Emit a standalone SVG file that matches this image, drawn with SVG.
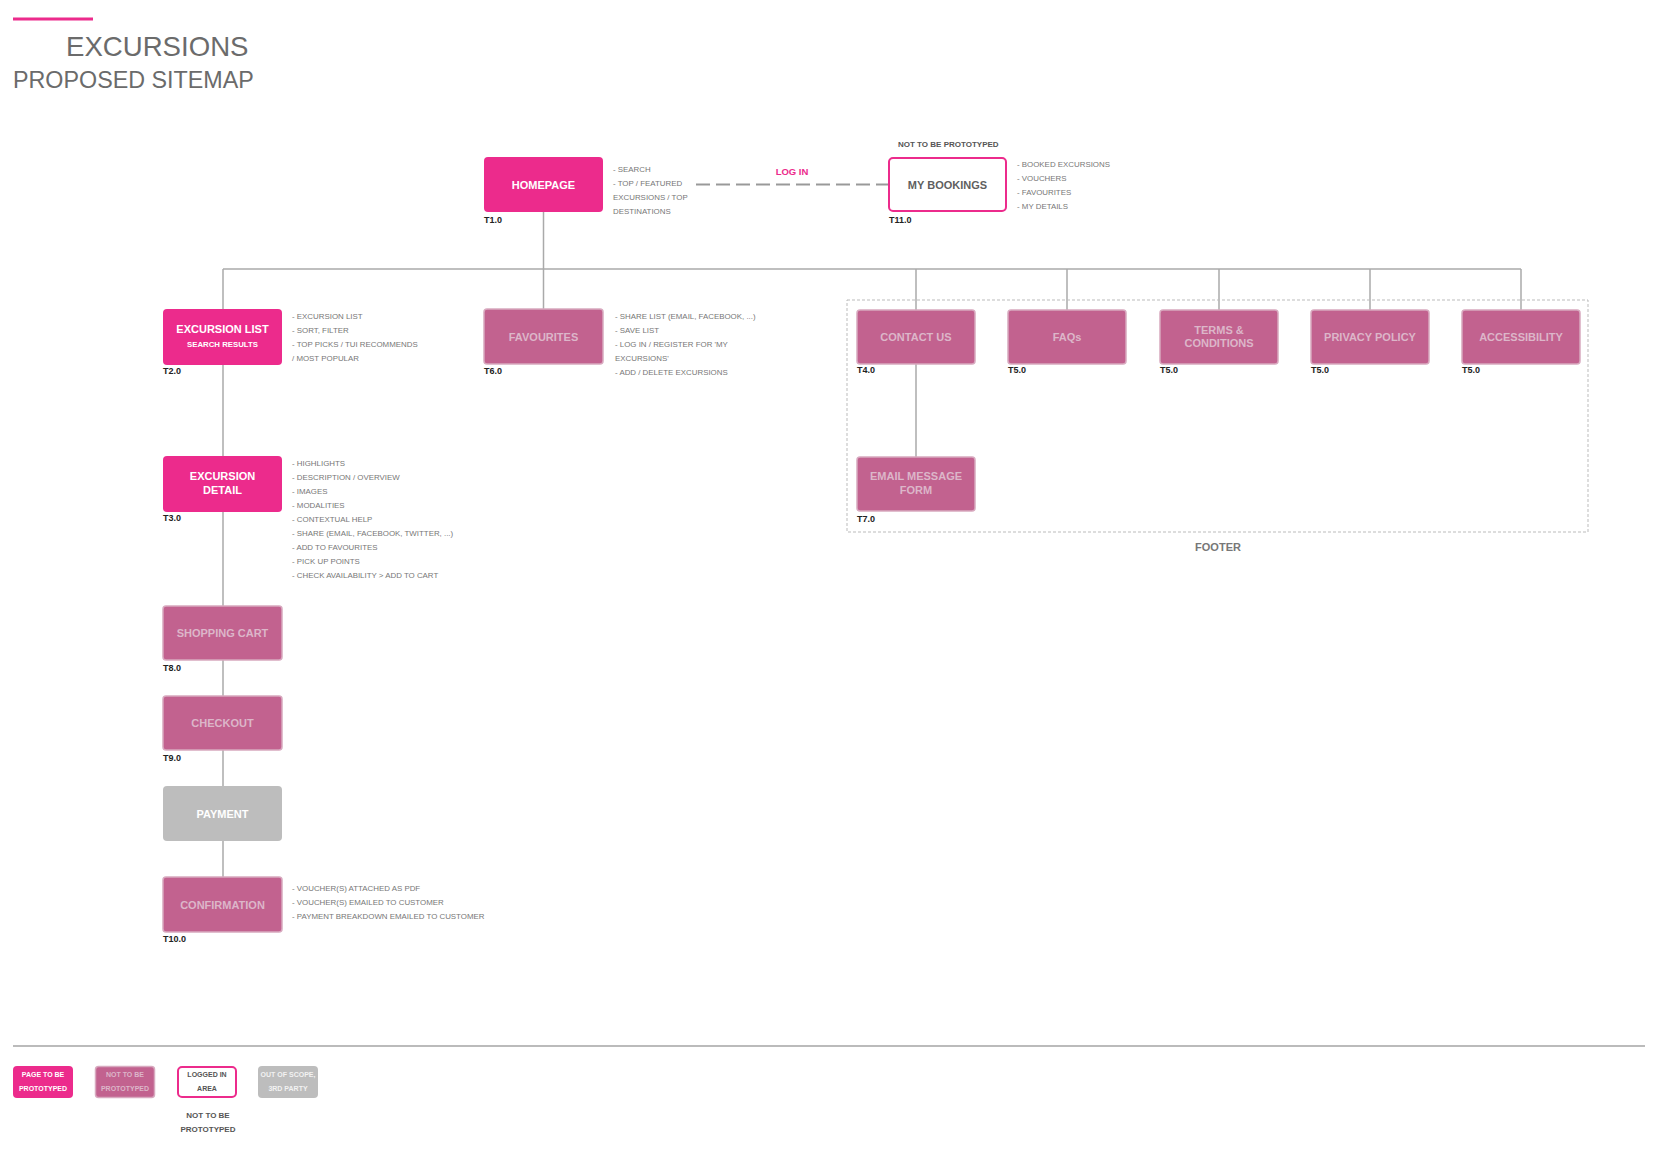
<svg xmlns="http://www.w3.org/2000/svg" width="1659" height="1152" viewBox="0 0 1659 1152">
<style>
text{font-family:"Liberation Sans",Arial,Helvetica,sans-serif}
.hot{fill:#ec2b8c}
.mut{fill:#c2628f;stroke:#d8a9bf;stroke-width:1.5}
.gry{fill:#bdbdbd}
.lg{fill:#fff;stroke:#ec2b8c;stroke-width:2}
.lw{font-size:11px;font-weight:bold;fill:#fff;text-anchor:middle}
.lm{font-size:11px;font-weight:bold;fill:#dcb6c9;text-anchor:middle}
.lb{font-size:11px;font-weight:bold;fill:#5f5f5f;text-anchor:middle}
.sub{font-size:7.8px;font-weight:bold;fill:#fff;text-anchor:middle}
.tl{font-size:9px;font-weight:bold;fill:#222}
.nt{font-size:7.9px;fill:#777}
.cap{font-size:8px;font-weight:bold;fill:#555}
.con{stroke:#aaa;stroke-width:1.5;fill:none}
.lgt{font-size:7px;font-weight:bold;text-anchor:middle}
</style>
<line x1="13" y1="19" x2="93" y2="19" stroke="#ec2b8c" stroke-width="3"/>
<text x="66" y="56" font-size="27.6" fill="#6b6b6b">EXCURSIONS</text>
<text x="13" y="88" font-size="23.3" fill="#6b6b6b">PROPOSED SITEMAP</text>

<g id="connectors">
<line class="con" x1="223" y1="269" x2="1521" y2="269"/>
<line class="con" x1="543.5" y1="212" x2="543.5" y2="309"/>
<line class="con" x1="223" y1="269" x2="223" y2="877"/>
<line class="con" x1="916" y1="269" x2="916" y2="457"/>
<line class="con" x1="1067" y1="269" x2="1067" y2="310"/>
<line class="con" x1="1219" y1="269" x2="1219" y2="310"/>
<line class="con" x1="1370" y1="269" x2="1370" y2="310"/>
<line class="con" x1="1521" y1="269" x2="1521" y2="310"/>
<line x1="696" y1="184.5" x2="888" y2="184.5" stroke="#999" stroke-width="2" stroke-dasharray="14 6"/>
<text x="792" y="175" font-size="9.5" font-weight="bold" fill="#ec2b8c" text-anchor="middle">LOG IN</text>
</g>

<g id="footer-group">
<rect x="847" y="300" width="741" height="232" fill="none" stroke="#bbb" stroke-width="1" stroke-dasharray="3 2"/>
<text x="1218" y="551" font-size="11" font-weight="bold" fill="#777" text-anchor="middle">FOOTER</text>
</g>

<g id="homepage">
<rect class="hot" x="484" y="157" width="119" height="55" rx="4"/>
<text class="lw" x="543.5" y="188.5">HOMEPAGE</text>
<text class="tl" x="484" y="223">T1.0</text>
<text class="nt" x="613" y="172">- SEARCH</text>
<text class="nt" x="613" y="186">- TOP / FEATURED</text>
<text class="nt" x="613" y="200">EXCURSIONS / TOP</text>
<text class="nt" x="613" y="214">DESTINATIONS</text>
</g>

<g id="my-bookings">
<text class="cap" x="898" y="147">NOT TO BE PROTOTYPED</text>
<rect class="lg" x="889" y="158" width="117" height="53" rx="4"/>
<text class="lb" x="947.5" y="188.5">MY BOOKINGS</text>
<text class="tl" x="889" y="223">T11.0</text>
<text class="nt" x="1017" y="167">- BOOKED EXCURSIONS</text>
<text class="nt" x="1017" y="181">- VOUCHERS</text>
<text class="nt" x="1017" y="195">- FAVOURITES</text>
<text class="nt" x="1017" y="209">- MY DETAILS</text>
</g>

<g id="excursion-list">
<rect class="hot" x="163" y="309" width="119" height="56" rx="4"/>
<text class="lw" x="222.5" y="332.5">EXCURSION LIST</text>
<text class="sub" x="222.5" y="346.5">SEARCH RESULTS</text>
<text class="tl" x="163" y="374">T2.0</text>
<text class="nt" x="292" y="319">- EXCURSION LIST</text>
<text class="nt" x="292" y="333">- SORT, FILTER</text>
<text class="nt" x="292" y="347">- TOP PICKS / TUI RECOMMENDS</text>
<text class="nt" x="292" y="361">/ MOST POPULAR</text>
</g>

<g id="favourites">
<rect class="mut" x="484" y="309" width="119" height="55" rx="3"/>
<text class="lm" x="543.5" y="340.5">FAVOURITES</text>
<text class="tl" x="484" y="374">T6.0</text>
<text class="nt" x="615" y="319">- SHARE LIST (EMAIL, FACEBOOK, ...)</text>
<text class="nt" x="615" y="333">- SAVE LIST</text>
<text class="nt" x="615" y="347">- LOG IN / REGISTER FOR 'MY</text>
<text class="nt" x="615" y="361">EXCURSIONS'</text>
<text class="nt" x="615" y="374.5">- ADD / DELETE EXCURSIONS</text>
</g>

<g id="contact-us">
<rect class="mut" x="857" y="310" width="118" height="54" rx="3"/>
<text class="lm" x="916" y="341">CONTACT US</text>
<text class="tl" x="857" y="373">T4.0</text>
</g>
<g id="faqs">
<rect class="mut" x="1008" y="310" width="118" height="54" rx="3"/>
<text class="lm" x="1067" y="341">FAQs</text>
<text class="tl" x="1008" y="373">T5.0</text>
</g>
<g id="terms">
<rect class="mut" x="1160" y="310" width="118" height="54" rx="3"/>
<text class="lm" x="1219" y="334">TERMS &amp;</text>
<text class="lm" x="1219" y="347">CONDITIONS</text>
<text class="tl" x="1160" y="373">T5.0</text>
</g>
<g id="privacy">
<rect class="mut" x="1311" y="310" width="118" height="54" rx="3"/>
<text class="lm" x="1370" y="341">PRIVACY POLICY</text>
<text class="tl" x="1311" y="373">T5.0</text>
</g>
<g id="accessibility">
<rect class="mut" x="1462" y="310" width="118" height="54" rx="3"/>
<text class="lm" x="1521" y="341">ACCESSIBILITY</text>
<text class="tl" x="1462" y="373">T5.0</text>
</g>
<g id="email-form">
<rect class="mut" x="857" y="457" width="118" height="54" rx="3"/>
<text class="lm" x="916" y="480">EMAIL MESSAGE</text>
<text class="lm" x="916" y="494">FORM</text>
<text class="tl" x="857" y="522">T7.0</text>
</g>

<g id="excursion-detail">
<rect class="hot" x="163" y="456" width="119" height="56" rx="4"/>
<text class="lw" x="222.5" y="480">EXCURSION</text>
<text class="lw" x="222.5" y="494">DETAIL</text>
<text class="tl" x="163" y="521">T3.0</text>
<text class="nt" x="292" y="466">- HIGHLIGHTS</text>
<text class="nt" x="292" y="480">- DESCRIPTION / OVERVIEW</text>
<text class="nt" x="292" y="494">- IMAGES</text>
<text class="nt" x="292" y="508">- MODALITIES</text>
<text class="nt" x="292" y="522">- CONTEXTUAL HELP</text>
<text class="nt" x="292" y="536">- SHARE (EMAIL, FACEBOOK, TWITTER, ...)</text>
<text class="nt" x="292" y="550">- ADD TO FAVOURITES</text>
<text class="nt" x="292" y="564">- PICK UP POINTS</text>
<text class="nt" x="292" y="578">- CHECK AVAILABILITY &gt; ADD TO CART</text>
</g>

<g id="shopping-cart">
<rect class="mut" x="163" y="606" width="119" height="54" rx="3"/>
<text class="lm" x="222.5" y="637">SHOPPING CART</text>
<text class="tl" x="163" y="671">T8.0</text>
</g>
<g id="checkout">
<rect class="mut" x="163" y="696" width="119" height="54" rx="3"/>
<text class="lm" x="222.5" y="727">CHECKOUT</text>
<text class="tl" x="163" y="761">T9.0</text>
</g>
<g id="payment">
<rect class="gry" x="163" y="786" width="119" height="55" rx="4"/>
<text class="lw" x="222.5" y="817.5">PAYMENT</text>
</g>
<g id="confirmation">
<rect class="mut" x="163" y="877" width="119" height="55" rx="3"/>
<text class="lm" x="222.5" y="908.5">CONFIRMATION</text>
<text class="tl" x="163" y="942">T10.0</text>
<text class="nt" x="292" y="891">- VOUCHER(S) ATTACHED AS PDF</text>
<text class="nt" x="292" y="905">- VOUCHER(S) EMAILED TO CUSTOMER</text>
<text class="nt" x="292" y="919">- PAYMENT BREAKDOWN EMAILED TO CUSTOMER</text>
</g>

<line x1="13" y1="1046" x2="1645" y2="1046" stroke="#bbb" stroke-width="2"/>
<g id="legend">
<rect class="hot" x="13" y="1066" width="60" height="32" rx="4"/>
<text class="lgt" x="43" y="1077" fill="#fff">PAGE TO BE</text>
<text class="lgt" x="43" y="1091" fill="#fff">PROTOTYPED</text>
<rect class="mut" x="95.5" y="1066.5" width="59" height="31" rx="3"/>
<text class="lgt" x="125" y="1077" fill="#dcb6c9">NOT TO BE</text>
<text class="lgt" x="125" y="1091" fill="#dcb6c9">PROTOTYPED</text>
<rect class="lg" x="178" y="1067" width="58" height="30" rx="4"/>
<text class="lgt" x="207" y="1077" fill="#555">LOGGED IN</text>
<text class="lgt" x="207" y="1091" fill="#555">AREA</text>
<text class="cap" x="208" y="1118" text-anchor="middle">NOT TO BE</text>
<text class="cap" x="208" y="1132" text-anchor="middle">PROTOTYPED</text>
<rect class="gry" x="258" y="1066" width="60" height="32" rx="4"/>
<text class="lgt" x="288" y="1077" fill="#f2f2f2">OUT OF SCOPE,</text>
<text class="lgt" x="288" y="1091" fill="#f2f2f2">3RD PARTY</text>
</g>
</svg>
